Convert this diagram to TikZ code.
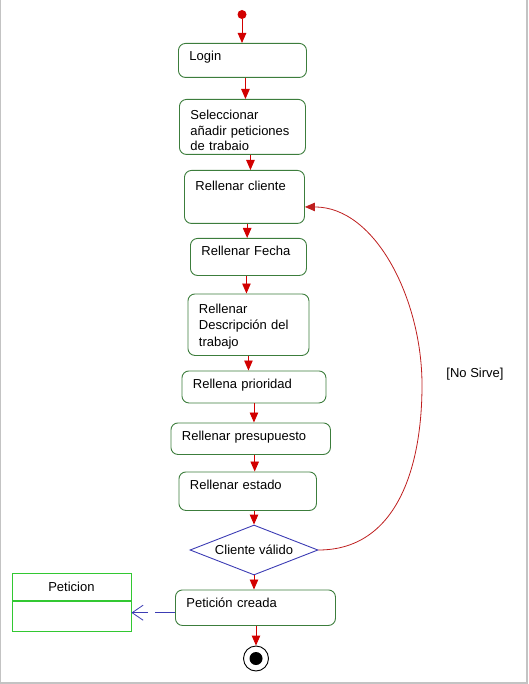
\documentclass[tikz,border=0pt]{standalone}
\usepackage{fontspec}
\setmainfont{Liberation Sans}
\usetikzlibrary{arrows.meta,shapes.geometric}
\definecolor{flowred}{RGB}{210,0,0}
\definecolor{loopred}{RGB}{190,30,30}
\definecolor{actgreen}{RGB}{60,125,60}
\definecolor{classgreen}{RGB}{50,200,50}
\definecolor{diablue}{RGB}{60,60,180}
\definecolor{framegray}{RGB}{195,195,195}

\begin{document}
\begin{tikzpicture}[x=1pt,y=-1pt,
	font=\fontsize{13}{15.5}\selectfont,
	act/.style={draw=actgreen, line width=0.9pt, rounded corners=7pt, anchor=north west,
		inner xsep=11pt, inner ysep=7.5pt, text height=10pt, align=left},
	flow/.style={flowred, line width=0.9pt, -{Triangle[length=10pt,width=8.5pt]}},
	dep/.style={diablue, line width=0.8pt, dash pattern=on 20pt off 7pt,
		-{Straight Barb[length=11pt,width=15pt]}},
	cls/.style={draw=classgreen, line width=0.9pt, minimum width=119pt, inner sep=0pt}]
	\useasboundingbox (0,0) rectangle (528,684);
	\draw[framegray, line width=0.8pt] (0.5,0) -- (0.5,683);
	\draw[framegray, line width=1.5pt] (527,0) -- (527,683) (0,683) -- (528,683);

	\node[circle, fill=flowred, minimum size=9pt, inner sep=0pt] (start) at (242,14.5) {};
	\node[act, text width=106pt, text depth=9pt] (login) at (178,43) {Login};
	\node[act, text width=104pt, text height=13pt, text depth=27pt] (selec) at (179,99)
		{Seleccionar\\a\~nadir peticiones\\de trabaio};
	\node[act, text width=98pt, text height=12.5pt, text depth=25.5pt] (cliente) at (184,170) {Rellenar cliente};
	\node[act, text width=94pt, text depth=12pt] (fecha) at (190,238) {Rellenar Fecha};
	\node[act, text width=99pt, text height=12pt, text depth=34.5pt,
		font=\fontsize{13}{16.5}\selectfont] (desc) at (187.5,293.5)
		{Rellenar\\Descripci\'on del\\trabajo};
	\node[act, text width=122pt, text height=10.5pt, text depth=6.5pt] (prio) at (181.5,370.5) {Rellena prioridad};
	\node[act, text width=137.5pt, text depth=6.5pt] (presu) at (170.5,422.5) {Rellenar presupuesto};
	\node[act, text width=115.5pt, text depth=13.5pt] (estado) at (178.5,471.5) {Rellenar estado};
	\node[diamond, draw=diablue, line width=0.9pt, inner sep=0pt, aspect=2.56,
		minimum width=128pt, minimum height=50pt] (dia) at (254,550) {Cliente v\'alido};
	\node[act, text width=138pt, text depth=10.5pt] (creada) at (175,589.5) {Petici\'on creada};
	\node[circle, draw=black, fill=white, line width=0.9pt, minimum size=25pt, inner sep=0pt] (stop) at (256,658.5) {};
	\node[circle, fill=black, minimum size=13pt, inner sep=0pt] (stopdot) at (stop) {};

	\node[cls, minimum height=27pt, anchor=north west] (peticion) at (11.5,573) {Peticion};
	\node[cls, minimum height=30pt, anchor=north] (peticionbody) at (peticion.south) {};

	\draw[flow] (start.south) -- (start.south |- login.north);
	\draw[flow] ([xshift=3pt]login.south) -- ([xshift=3pt]login.south |- selec.north);
	\draw[flow] ([xshift=8pt]selec.south) -- ([xshift=8pt]selec.south |- cliente.north);
	\draw[flow] ([xshift=2.7pt]cliente.south) -- ([xshift=2.7pt]cliente.south |- fecha.north);
	\draw[flow] ([xshift=-2pt]fecha.south) -- ([xshift=-2pt]fecha.south |- desc.north);
	\draw[flow] (desc.south) -- (desc.south |- prio.north);
	\draw[flow] (prio.south) -- (prio.south |- presu.north);
	\draw[flow] ([xshift=4pt]presu.south) -- ([xshift=4pt]presu.south |- estado.north);
	\draw[flow] (dia.north |- estado.south) -- (dia.north);
	\draw[flow] (dia.south) -- (dia.south |- creada.north);
	\draw[flow] (stop.north |- creada.south) -- (stop.north);

	\coordinate (bend) at (422,385);
	\draw[loopred, line width=0.8pt, -{Triangle[length=10pt,width=8.5pt]}]
		(dia.east) .. controls +(77,0) and +(0,85) .. (bend)
		.. controls +(0,-85) and +(71,0) .. ([yshift=-10pt]cliente.east);
	\node (nosirve) at (475,374) {[No Sirve]};

	\draw[dep] ([yshift=-5pt]creada.west) -- ([yshift=-5pt]creada.west -| peticionbody.east);
\end{tikzpicture}
\end{document}
